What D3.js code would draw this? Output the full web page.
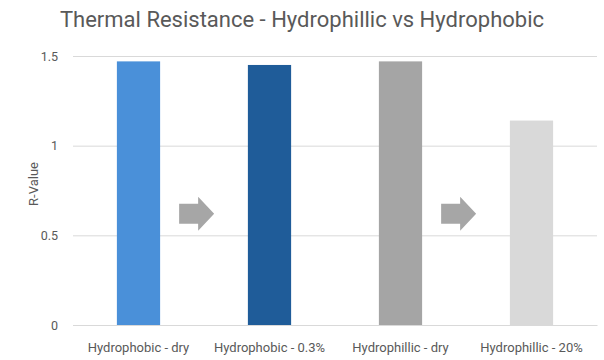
<!DOCTYPE html>
<html><head><meta charset="utf-8">
<script src="https://cdn.jsdelivr.net/npm/d3@7"></script>
<style>body{margin:0;background:#fff}svg{display:block}text{font-family:Roboto,sans-serif}</style>
</head><body>
<svg id="c" width="604" height="360"></svg>
<script>
const categories = ["Hydrophobic - dry", "Hydrophobic - 0.3%", "Hydrophillic - dry", "Hydrophillic - 20%"];
const values = [1.47, 1.45, 1.47, 1.14];
const colors = ["#4A90D9", "#1F5C99", "#A5A5A5", "#D9D9D9"];
const yTicks = [0, 0.5, 1, 1.5];
const yTickLabels = ["0", "0.5", "1", "1.5"];
const arrowsAfter = [0, 2];

const svg = d3.select("#c");
const m = {l:73, r:7, t:56, b:35};
const W = 604, H = 360;
const x = d3.scaleBand().domain(categories).range([m.l, W - m.r]).paddingInner(0.67).paddingOuter(0.335);
const y = d3.scaleLinear().domain([0, 1.5]).range([H - m.b, m.t]);

svg.append("text").attr("x", 302).attr("y", 27).attr("text-anchor", "middle")
  .attr("font-size", 22).attr("fill", "#595959").text("Thermal Resistance - Hydrophillic vs Hydrophobic");

const ya = svg.append("g").attr("transform", `translate(${m.l},0)`)
  .call(d3.axisLeft(y).tickValues(yTicks).tickFormat((d,i)=>yTickLabels[i]).tickSize(-(W - m.l - m.r)).tickPadding(15));
ya.select(".domain").remove();
ya.selectAll(".tick line").attr("stroke", "#D9D9D9");
ya.selectAll(".tick text").attr("fill", "#595959").attr("font-size", 12.5);

svg.append("text").attr("transform", `translate(38,184) rotate(-90)`)
  .attr("text-anchor", "middle").attr("font-size", 13).attr("fill", "#595959").text("R-Value");

svg.selectAll("rect.bar").data(values).join("rect").attr("class","bar")
  .attr("x", (d,i)=>x(categories[i])).attr("width", x.bandwidth())
  .attr("y", d=>y(d)).attr("height", d=>y(0)-y(d)).attr("fill", (d,i)=>colors[i]);

const xa = svg.append("g").attr("transform", `translate(0,${y(0)})`)
  .call(d3.axisBottom(x).tickSize(0).tickPadding(18));
xa.select(".domain").attr("stroke", "#D9D9D9");
xa.selectAll(".tick text").attr("fill", "#595959").attr("font-size", 13).attr("font-family", "Lato, sans-serif");

// arrows between bars
const step = x.step();
arrowsAfter.forEach(i => {
  const cx = x(categories[i]) + x.bandwidth()/2 + step*0.44;
  const cy = y(0.62);
  const p = [[-17,-10],[2,-10],[2,-17],[18,0],[2,17],[2,10],[-17,10]];
  svg.append("polygon").attr("points", p.map(q=>[cx+q[0], cy+q[1]].join(",")).join(" ")).attr("fill", "#A6A6A6");
});
</script>
</body></html>
